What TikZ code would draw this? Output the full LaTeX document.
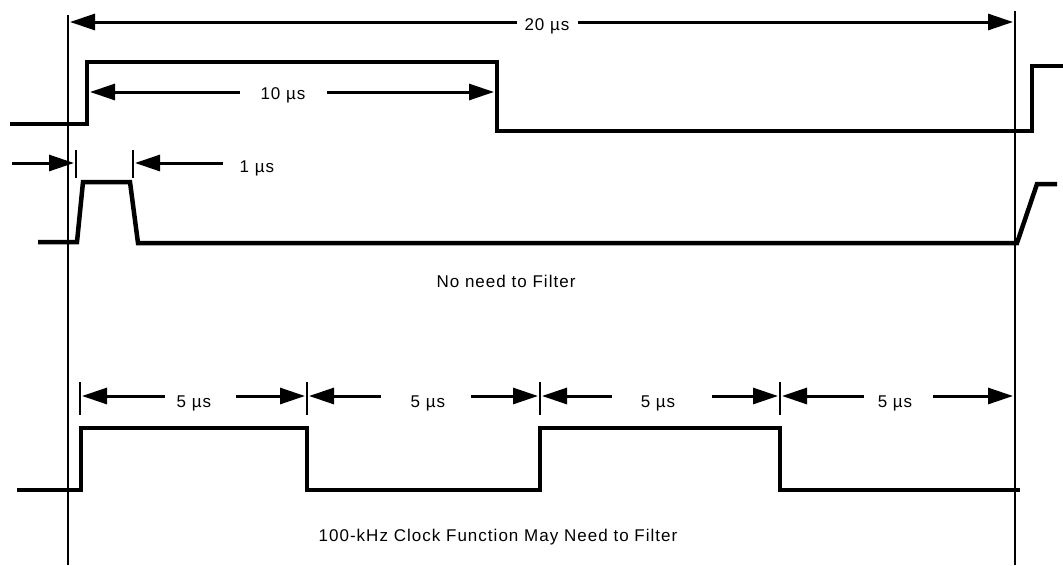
\documentclass[tikz,border=0pt]{standalone}
\usepackage{fontspec}
\setmainfont{Liberation Sans}[LetterSpace=6]
\usetikzlibrary{arrows.meta}
\begin{document}
\begin{tikzpicture}[x=1pt,y=-1pt,
  sig/.style={line width=4.5pt, line join=miter},
  refline/.style={line width=2pt},
  dim/.style={line width=3pt,-{Triangle[length=25pt,width=16pt]}},
  tickmark/.style={line width=2pt},
  lbl/.style={font=\fontsize{17}{20}\selectfont, anchor=base, inner sep=0pt}]
\useasboundingbox (0,0) rectangle (1063,565);

% reference lines
\coordinate (Ltop) at (68,15);  \coordinate (Lbot) at (68,565);
\coordinate (Rtop) at (1015,11); \coordinate (Rbot) at (1015,565);
\draw[refline] (Ltop) -- (Lbot);
\draw[refline] (Rtop) -- (Rbot);

% 20 us
\node[lbl] (t20) at (547,30) {20 µs};
\coordinate (a20l) at (517,22); \coordinate (e20l) at (70,22);
\coordinate (a20r) at (578,22); \coordinate (e20r) at (1013,22);
\draw[dim] (a20l) -- (e20l);
\draw[dim] (a20r) -- (e20r);

% signal 1
\draw[sig] (10,124) -- (87,124) -- (87,62) -- (497,62) -- (497,131) -- (1032,131) -- (1032,66) -- (1063,66);

% 10 us
\node[lbl] (t10) at (283,99) {10 µs};
\coordinate (a10l) at (240,92); \coordinate (e10l) at (90,92);
\coordinate (a10r) at (327,92); \coordinate (e10r) at (494,92);
\draw[dim] (a10l) -- (e10l);
\draw[dim] (a10r) -- (e10r);

% signal 2
\draw[sig] (38,242) -- (77,242) -- (83,182) -- (130,182) -- (138,243) -- (1017,243) -- (1037,184) -- (1057,184);

% 1 us
\coordinate (k1t) at (76,150); \coordinate (k1b) at (76,178);
\coordinate (k2t) at (133,150); \coordinate (k2b) at (133,178);
\draw[tickmark] (k1t) -- (k1b);
\draw[tickmark] (k2t) -- (k2b);
\node[lbl] (t1) at (257,172) {1 µs};
\coordinate (a1l) at (12,163); \coordinate (e1l) at (74,163);
\coordinate (a1r) at (223,163); \coordinate (e1r) at (135,163);
\draw[dim] (a1l) -- (e1l);
\draw[dim] (a1r) -- (e1r);

\node[lbl] (nf) at (506,287) {No need to Filter};

% clock signal
\draw[sig] (17,490) -- (81,490) -- (81,428) -- (307,428) -- (307,490) -- (540,490) -- (540,428) -- (780,428) -- (780,490) -- (1020,490);

% ticks
\foreach \x/\n in {80/a,307/b,540/c,780/d}{
  \coordinate (tk\n t) at (\x,382); \coordinate (tk\n b) at (\x,415);
  \draw[tickmark] (tk\n t) -- (tk\n b);
}

% 5 us arrows
\node[lbl] (f1) at (194,407) {5 µs};
\node[lbl] (f2) at (428,407) {5 µs};
\node[lbl] (f3) at (658,407) {5 µs};
\node[lbl] (f4) at (895,407) {5 µs};
\coordinate (s1l) at (165,396); \coordinate (p1l) at (82,396);
\coordinate (s1r) at (236,396); \coordinate (p1r) at (305,396);
\coordinate (s2l) at (381,396); \coordinate (p2l) at (309,396);
\coordinate (s2r) at (471,396); \coordinate (p2r) at (538,396);
\coordinate (s3l) at (612,396); \coordinate (p3l) at (542,396);
\coordinate (s3r) at (712,396); \coordinate (p3r) at (778,396);
\coordinate (s4l) at (864,396); \coordinate (p4l) at (782,396);
\coordinate (s4r) at (933,396); \coordinate (p4r) at (1013,396);
\draw[dim] (s1l) -- (p1l); \draw[dim] (s1r) -- (p1r);
\draw[dim] (s2l) -- (p2l); \draw[dim] (s2r) -- (p2r);
\draw[dim] (s3l) -- (p3l); \draw[dim] (s3r) -- (p3r);
\draw[dim] (s4l) -- (p4l); \draw[dim] (s4r) -- (p4r);

\node[lbl] (cf) at (498,541) {100-kHz Clock Function May Need to Filter};
\end{tikzpicture}
\end{document}
